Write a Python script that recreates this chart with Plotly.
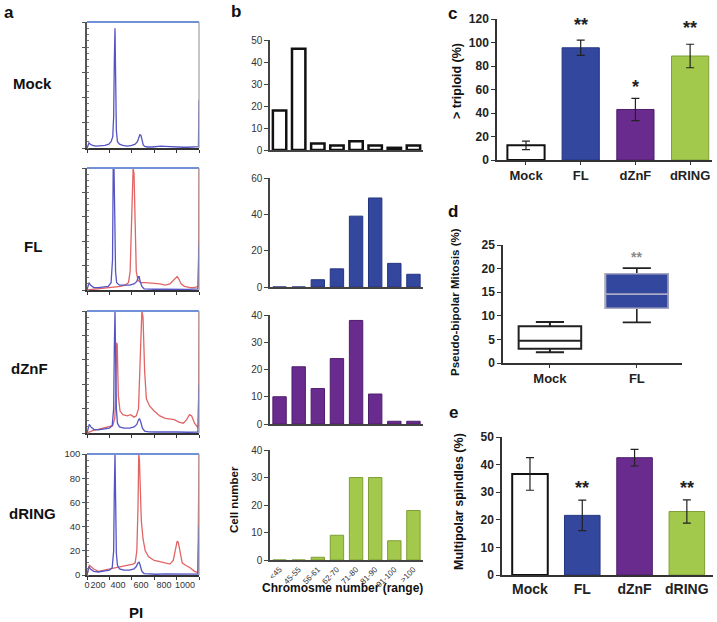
import plotly.graph_objects as go

W, H = 717, 622
FONT = "Arial, Liberation Sans, sans-serif"

# ---------- data ----------
# a: PI flow histograms (x in PI axis units 0-1000, y = % of max)
mock_blue_x = [0, 8, 18, 30, 50, 80, 120, 160, 195, 215, 230, 238, 244, 250, 256, 262, 272, 290, 320, 360,
               400, 430, 450, 462, 472, 482, 492, 502, 515, 540, 580, 620, 660, 700, 740, 780, 820, 860, 900, 940,
               980, 995, 1000]
mock_blue_y = [0, 2, 4, 3, 2, 1.5, 1.5, 2, 3, 5, 9, 25, 70, 95, 55, 14, 5, 3, 2, 1.5,
               2, 3, 5, 8, 10.5, 10, 6, 2.5, 1.2, 0.8, 0.8, 1.2, 1.5, 1.3, 1, 0.8, 0.7, 0.6, 0.6, 0.6,
               0.6, 1, 38]

fl_blue_x = [0, 10, 18, 30, 60, 100, 150, 190, 215, 228, 234, 241, 248, 255, 265, 290, 330, 380, 420, 445,
             458, 466, 475, 490, 510, 540, 600, 700, 800, 900, 990, 1000]
fl_blue_y = [0, 4, 6, 4, 2, 2, 2.5, 3, 6, 25, 100, 100, 60, 15, 6, 4, 4, 4, 5, 7,
             11, 11, 7, 3, 1, 0.8, 0.6, 0.6, 0.5, 0.5, 1, 38]
fl_red_x = [0, 50, 100, 150, 200, 250, 300, 340, 370, 385, 395, 405, 412, 420, 430, 440, 455, 480, 520, 560,
            600, 650, 700, 740, 770, 790, 805, 820, 840, 870, 920, 960, 995, 1000]
fl_red_y = [0, 0.5, 0.8, 1, 1.5, 2, 3, 4, 6, 15, 50, 95, 100, 95, 50, 15, 8, 6, 6, 6,
            5.5, 5, 4, 5, 8, 10, 11, 9, 5, 3, 2, 2, 3, 100]

dznf_blue_x = [0, 10, 20, 35, 60, 100, 150, 200, 225, 238, 244, 250, 256, 262, 272, 290, 330, 380, 420, 445,
               460, 470, 480, 495, 515, 550, 620, 700, 800, 900, 990, 1000]
dznf_blue_y = [0, 3, 7, 5, 3, 2.5, 3, 4, 6, 20, 70, 100, 60, 20, 8, 5, 4, 4, 5, 7,
               11, 11.5, 9, 4, 1.5, 1, 0.8, 1, 0.8, 0.6, 0.8, 40]
dznf_red_x = [0, 20, 50, 100, 150, 200, 230, 248, 255, 265, 270, 280, 295, 320, 360, 390, 420, 440, 460, 475,
              490, 500, 515, 530, 560, 600, 650, 700, 750, 780, 820, 860, 890, 915, 935, 960, 985, 995, 1000]
dznf_red_y = [0, 1, 2, 3, 4, 5, 6, 12, 25, 74, 72, 30, 18, 15, 14, 15, 13, 14, 20, 60,
              100, 95, 50, 28, 22, 18, 14, 12, 11, 11, 9, 8, 11, 15, 14, 8, 5, 6, 100]

dring_blue_x = [0, 10, 18, 30, 60, 100, 150, 200, 225, 238, 244, 250, 256, 262, 272, 290, 330, 380, 420, 440,
                455, 465, 475, 490, 510, 550, 620, 700, 800, 900, 990, 1000]
dring_blue_y = [0, 4, 7, 5, 3, 2.5, 3, 4, 6, 20, 70, 100, 60, 18, 8, 5, 4, 4, 5, 7,
                10, 10.5, 8, 3, 1.2, 0.8, 0.6, 1, 0.8, 0.6, 0.8, 40]
dring_red_x = [0, 10, 20, 35, 60, 100, 150, 200, 250, 300, 340, 380, 410, 430, 445, 455, 462, 468, 475, 485,
               500, 520, 550, 600, 650, 700, 740, 770, 790, 805, 815, 830, 850, 880, 920, 960, 990, 1000]
dring_red_y = [0, 5, 8, 7, 5, 3, 4, 5, 6, 7, 7.5, 8, 9, 10, 20, 55, 100, 95, 70, 45,
               30, 20, 15, 12, 11, 10, 9, 12, 22, 28, 27, 18, 10, 8, 6, 3, 2, 100]

pi_tick_text = ["0", "200", "400", "600", "800", "1000"]

# b: chromosome number distribution
chrom_ranges = ["<45", "45-55", "56-61", "62-70", "71-80", "81-90", "91-100", ">100"]
cells_mock = [18, 46, 3, 2, 4, 2, 1, 2]
cells_fl = [0, 0, 4, 10, 39, 49, 13, 7]
cells_dznf = [10, 21, 13, 24, 38, 11, 1, 1]
cells_dring = [0, 0, 1, 9, 30, 30, 7, 18]

# c: > triploid (%)
groups = ["Mock", "FL", "dZnF", "dRING"]
triploid = [12.5, 95.5, 43, 88.5]
triploid_err = [3.6, 6.5, 9.5, 10]
triploid_stars = ["", "**", "*", "**"]
triploid_star_y = [0, 115, 62, 112]

# d: pseudo-bipolar mitosis (%)
box_groups = ["Mock", "FL"]
box_low = [2.3, 8.6]
box_q1 = [3.0, 11.6]
box_med = [4.7, 14.6]
box_q3 = [7.8, 18.9]
box_high = [8.7, 20.1]

# e: multipolar spindles (%)
multipolar = [36.6, 21.6, 42.5, 23]
multipolar_err = [5.9, 5.5, 3, 4.2]
multipolar_stars = ["", "**", "", "**"]
multipolar_star_y = [0, 31.4, 0, 31.4]

# ---------- style ----------
BLUE = "#34479f"
PURPLE = "#6a2b8e"
GREEN = "#a3c94c"
FILLS = ["white", BLUE, PURPLE, GREEN]
EDGES = ["#111111", "#24357f", "#4f1d6c", "#7f9e35"]
EDGE_W = [2, 1, 1, 1]
LINE_BLUE = "rgb(84,84,196)"
LINE_RED = "rgb(226,100,100)"
AXC = "#333333"


def dom_x(l, r):
    return [l / W, r / W]


def dom_y(top, bot):
    return [1 - bot / H, 1 - top / H]


def names(i):
    s = "" if i == 1 else str(i)
    return "x" + s, "y" + s, "xaxis" + s, "yaxis" + s


fig = go.Figure()
layout = {}
shapes = []
annotations = []


def note(text, x, y, size, angle=0, bold=True, color="#111"):
    annotations.append(dict(text=text, x=x / W, y=1 - y / H, xref="paper", yref="paper",
                            showarrow=False, xanchor="center", yanchor="middle", textangle=angle,
                            font=dict(family=FONT, size=size, color=color,
                                      weight="bold" if bold else "normal")))


# ---------- panel a ----------
flow = [
    ("Mock", 22, 148, None, None, mock_blue_x, mock_blue_y, 32, 83),
    ("FL", 168, 290, fl_red_x, fl_red_y, fl_blue_x, fl_blue_y, 33, 247),
    ("dZnF", 311, 433, dznf_red_x, dznf_red_y, dznf_blue_x, dznf_blue_y, 29, 368),
    ("dRING", 454, 575, dring_red_x, dring_red_y, dring_blue_x, dring_blue_y, 32, 513),
]
for k, (name, top, bot, rx, ry, bx, by, lx, ly) in enumerate(flow):
    i = k + 1
    xa, ya, xk, yk = names(i)
    last = k == len(flow) - 1
    if rx is not None:
        fig.add_trace(go.Scatter(x=rx, y=ry, mode="lines", line=dict(color=LINE_RED, width=1.3),
                                 xaxis=xa, yaxis=ya, hoverinfo="skip", showlegend=False))
    fig.add_trace(go.Scatter(x=bx, y=by, mode="lines", line=dict(color=LINE_BLUE, width=1.3),
                             xaxis=xa, yaxis=ya, hoverinfo="skip", showlegend=False))
    layout[xk] = dict(domain=dom_x(87, 199), anchor=ya, range=[0, 1000], showline=True, linecolor=AXC,
                      linewidth=1.5, showgrid=False, zeroline=False, ticks="", tickangle=0,
                      tickvals=[0, 98, 277, 482, 688, 875], ticktext=pi_tick_text,
                      showticklabels=last, tickfont=dict(family=FONT, size=9, color="#333"),
                      minor=dict(ticks="outside", tick0=0, dtick=200, ticklen=3, tickcolor=AXC))
    layout[yk] = dict(domain=dom_y(top, bot), anchor=xa, range=[0, 100], showline=True, linecolor="#555",
                      linewidth=1.5, showgrid=False, zeroline=False, tickvals=[0, 20, 40, 60, 80, 100],
                      ticks="outside", ticklen=3, tickcolor="#555", showticklabels=last,
                      tickfont=dict(family=FONT, size=9.5, color="#333"),
                      minor=dict(ticks="inside", dtick=5, ticklen=2, tickcolor="#777"))
    shapes.append(dict(type="line", xref=xa + " domain", yref=ya + " domain", x0=0, x1=1, y0=1, y1=1,
                       line=dict(color="#7090d8", width=2)))
    shapes.append(dict(type="line", xref=xa + " domain", yref=ya + " domain", x0=1, x1=1, y0=0, y1=1,
                       line=dict(color="#a0a0a0", width=1.2)))
    note(name, lx, ly, 15)

note("PI", 136, 612, 15)
note("a", 9, 12, 17)

# ---------- panel b ----------
chrom_text = [c.replace("<", "&lt;").replace(">", "&gt;") for c in chrom_ranges]
hist = [
    (cells_mock, 40, 150, 50, 10, 0),
    (cells_fl, 178, 287, 60, 20, 1),
    (cells_dznf, 315, 424, 40, 10, 2),
    (cells_dring, 450, 560, 40, 10, 3),
]
for k, (vals, top, bot, ymax, dt, c) in enumerate(hist):
    i = k + 5
    xa, ya, xk, yk = names(i)
    last = k == len(hist) - 1
    fig.add_trace(go.Bar(x=chrom_ranges, y=vals, width=0.7, xaxis=xa, yaxis=ya, showlegend=False,
                         marker=dict(color=FILLS[c], line=dict(color=EDGES[c], width=EDGE_W[c] + (0.5 if c == 0 else 0)))))
    layout[xk] = dict(domain=dom_x(270, 423), anchor=ya, type="category", range=[-0.5, 7.5],
                      showline=True, linecolor="#444", linewidth=1.5, ticks="", showgrid=False,
                      tickvals=chrom_ranges, ticktext=chrom_text, tickangle=-45,
                      showticklabels=last, tickfont=dict(family=FONT, size=8, color="#333"))
    layout[yk] = dict(domain=dom_y(top, bot), anchor=xa, range=[0, ymax], dtick=dt, showline=True,
                      linecolor="#444", linewidth=1.5, ticks="outside", ticklen=4, tickcolor="#444",
                      showgrid=False, zeroline=False, tickfont=dict(family=FONT, size=10, color="#333"))

note("Chromosme number (range)", 342, 588, 12)
note("Cell number", 234, 500, 11.5, angle=-90)
note("b", 236, 11, 17)

bold_tick = dict(family=FONT, size=12, color="#222", weight="bold")
bold_cat = dict(family=FONT, size=13, color="#222", weight="bold")

# ---------- panel c ----------
xa, ya, xk, yk = names(9)
fig.add_trace(go.Bar(x=groups, y=triploid, width=0.68, xaxis=xa, yaxis=ya, showlegend=False,
                     marker=dict(color=FILLS, line=dict(color=EDGES, width=EDGE_W)),
                     error_y=dict(type="data", array=triploid_err, color="#222", thickness=1.2, width=4)))
layout[xk] = dict(domain=dom_x(497, 712), anchor=ya, type="category", range=[-0.53, 3.4], showline=True,
                  linecolor=AXC, linewidth=1.5, ticks="outside", ticklen=3, tickcolor=AXC, tickfont=bold_cat)
layout[yk] = dict(domain=dom_y(19, 160), anchor=xa, range=[0, 120], dtick=20, showline=True, linecolor=AXC,
                  linewidth=1.5, ticks="outside", ticklen=4, tickcolor=AXC, showgrid=False, zeroline=False,
                  tickfont=bold_tick)
for g, s, yv in zip(groups, triploid_stars, triploid_star_y):
    if s:
        annotations.append(dict(text=s, x=g, y=yv, xref=xa, yref=ya, showarrow=False,
                                font=dict(family=FONT, size=18, color="#222", weight="bold")))
note("&gt; triploid (%)", 457, 81, 12.5, angle=-90)
note("c", 452, 13, 17)

# ---------- panel d ----------
xa, ya, xk, yk = names(10)
for j, g in enumerate(box_groups):
    fig.add_trace(go.Box(x=[g], q1=[box_q1[j]], median=[box_med[j]], q3=[box_q3[j]],
                         lowerfence=[box_low[j]], upperfence=[box_high[j]], width=0.72, whiskerwidth=0.45,
                         fillcolor=FILLS[j], line=dict(color="#222", width=2 if j == 0 else 1.6),
                         xaxis=xa, yaxis=ya, showlegend=False, hoverinfo="skip"))
# light outline and median on the FL box
fig.add_trace(go.Box(x=[box_groups[1]], q1=[box_q1[1]], median=[box_med[1]], q3=[box_q3[1]],
                     lowerfence=[box_q1[1]], upperfence=[box_q3[1]], width=0.72, whiskerwidth=0,
                     fillcolor=BLUE, line=dict(color="#a9abc4", width=1.6),
                     xaxis=xa, yaxis=ya, showlegend=False, hoverinfo="skip"))
layout[xk] = dict(domain=dom_x(503, 682), anchor=ya, type="category", range=[-0.54, 1.52], showline=True,
                  linecolor=AXC, linewidth=1.5, ticks="outside", ticklen=3, tickcolor=AXC, tickfont=bold_cat)
layout[yk] = dict(domain=dom_y(245, 363), anchor=xa, range=[0, 25], dtick=5, showline=True, linecolor=AXC,
                  linewidth=1.5, ticks="outside", ticklen=4, tickcolor=AXC, showgrid=False, zeroline=False,
                  tickfont=bold_tick)
annotations.append(dict(text="**", x=box_groups[1], y=22.4, xref=xa, yref=ya, showarrow=False,
                        font=dict(family=FONT, size=14, color="#8a8a8a", weight="bold")))
note("Pseudo-bipolar Mitosis (%)", 455, 302, 11.5, angle=-90)
note("d", 453, 212, 17)

# ---------- panel e ----------
xa, ya, xk, yk = names(11)
fig.add_trace(go.Bar(x=groups, y=multipolar, width=0.68, xaxis=xa, yaxis=ya, showlegend=False,
                     marker=dict(color=FILLS, line=dict(color=EDGES, width=EDGE_W)),
                     error_y=dict(type="data", array=multipolar_err, color="#222", thickness=1.2, width=4)))
layout[xk] = dict(domain=dom_x(502, 713), anchor=ya, type="category", range=[-0.535, 3.5], showline=True,
                  linecolor=AXC, linewidth=1.5, ticks="", tickfont=dict(family=FONT, size=14, color="#222",
                                                                       weight="bold"))
layout[yk] = dict(domain=dom_y(437, 575), anchor=xa, range=[0, 50], dtick=10, showline=True, linecolor=AXC,
                  linewidth=1.5, ticks="outside", ticklen=4, tickcolor=AXC, showgrid=False, zeroline=False,
                  tickfont=bold_tick)
for g, s, yv in zip(groups, multipolar_stars, multipolar_star_y):
    if s:
        annotations.append(dict(text=s, x=g, y=yv, xref=xa, yref=ya, showarrow=False,
                                font=dict(family=FONT, size=18, color="#222", weight="bold")))
note("Multipolar spindles (%)", 459, 501, 12.5, angle=-90)
note("e", 453, 412, 17)

fig.update_layout(
    width=W, height=H,
    # fixed margins: nothing may push them, so domains map straight to pixels
    margin=dict(l=0, r=0, t=0, b=0, pad=0, autoexpand=False),
    paper_bgcolor="white", plot_bgcolor="white",
    font=dict(family=FONT, color="#222"),
    showlegend=False, boxmode="overlay", bargap=0.3,
    shapes=shapes, annotations=annotations,
    **layout,
)

# page margin off so the 717x622 figure fills the window exactly
fig.write_html("out.html", post_script="document.body.style.margin='0px';",
               config={"displayModeBar": False})
